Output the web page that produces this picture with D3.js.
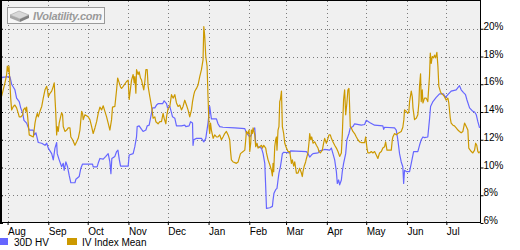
<!DOCTYPE html>
<html lang="en">
<head>
<meta charset="UTF-8">
<title>30D HV / IV Index Mean</title>
<script src="https://cdn.jsdelivr.net/npm/d3@7/dist/d3.min.js"></script>
<style>
    body { margin: 0; background: #fff; }
    svg text { font-family: "Liberation Sans", Arial, sans-serif; font-size: 10px; fill: #000; }
</style>
</head>
<body>
<div id="chart"></div>
<script>
    // time range of the chart (one year, day 0 = start date)
    var startDate = new Date(2010, 6, 27);
    var endDate = new Date(2011, 6, 27);

    var monthLabels = ["Aug", "Sep", "Oct", "Nov", "Dec", "Jan", "Feb", "Mar", "Apr", "May", "Jun", "Jul"];
    var yTicks = [6, 8, 10, 12, 14, 16, 18, 20];
    var seriesNames = ["30D HV", "IV Index Mean"];
    var seriesColors = ["#6666ff", "#cc9900"];

    // [day offset from startDate, value in %]
    var hvSeries = [
        [0, 16.1], [0.5, 16.5], [6.8, 16.55], [8.1, 16.0], [10.6, 15.6], [11.9, 15.0], [13.9, 14.75], [15.0, 14.3],
        [16.5, 13.9], [17.5, 13.4], [19.5, 13.2], [21.5, 12.7], [24.6, 12.7], [25.3, 12.35], [26.6, 12.5], [28.4, 11.8],
        [31.0, 11.75], [33.5, 11.6], [34.8, 11.75], [36.0, 11.4], [38.6, 11.0], [39.8, 10.55], [41.1, 11.4], [42.4, 11.8],
        [42.8, 11.0], [44.3, 10.55], [46.2, 10.05], [47.4, 10.3], [48.1, 9.8], [49.4, 10.4], [50.7, 10.05], [51.9, 9.45],
        [53.2, 8.9], [56.3, 8.9], [57.0, 9.15], [59.5, 9.35], [60.8, 9.95], [62.1, 10.25], [69.7, 10.25], [70.2, 10.05],
        [73.2, 10.05], [74.3, 10.4], [75.3, 10.65], [77.8, 10.6], [79.8, 10.8], [81.6, 11.0], [82.9, 10.4], [83.7, 9.55],
        [84.4, 10.65], [86.7, 10.8], [88.0, 11.15], [89.0, 11.25], [90.0, 10.6], [91.0, 10.1], [96.8, 10.1], [97.6, 10.9],
        [100.6, 11.0], [101.9, 11.5], [103.2, 12.2], [103.7, 12.95], [105.2, 13.0], [107.0, 12.75], [108.2, 12.6], [110.3, 12.7],
        [111.3, 13.0], [112.8, 13.05], [113.8, 13.55], [115.4, 14.3], [117.1, 14.3], [118.4, 14.5], [119.6, 14.6], [123.0, 14.6],
        [124.2, 14.8], [126.0, 14.6], [126.8, 14.3], [128.5, 14.4], [130.6, 13.65], [132.3, 13.55], [133.6, 13.0], [137.4, 13.0],
        [139.9, 13.05], [140.7, 12.95], [143.2, 13.0], [144.3, 13.3], [145.8, 13.2], [146.2, 11.6], [146.8, 12.0], [148.8, 12.1],
        [152.6, 12.1], [154.4, 11.85], [155.9, 12.1], [157.6, 13.2], [158.9, 14.4], [160.2, 13.5], [164.0, 13.5], [165.2, 13.15],
        [166.5, 12.95], [169.0, 12.9], [177.9, 12.85], [185.6, 12.8], [186.8, 12.5], [188.1, 12.35], [189.4, 12.2], [190.6, 12.35],
        [191.9, 12.7], [193.2, 12.85], [193.9, 11.75], [195.7, 11.5], [198.3, 11.4], [199.5, 11.0], [200.8, 10.3], [201.5, 8.6],
        [202.1, 7.05], [204.6, 7.1], [206.6, 7.2], [207.1, 7.65], [207.8, 8.15], [209.1, 8.4], [210.1, 8.5], [210.9, 9.1],
        [211.6, 9.6], [212.7, 10.05], [213.5, 10.55], [214.2, 11.0], [215.2, 11.1], [219.8, 11.05], [220.5, 11.2], [232.5, 11.15],
        [233.7, 11.0], [235.0, 10.75], [236.3, 10.9], [237.5, 11.0], [241.3, 11.05], [242.6, 11.2], [246.4, 11.3], [250.2, 11.25],
        [251.5, 11.4], [252.7, 11.0], [254.0, 10.55], [255.3, 9.7], [256.0, 8.85], [257.0, 9.1], [257.8, 8.75], [259.1, 9.1],
        [259.8, 9.7], [260.8, 10.3], [262.4, 11.0], [263.3, 12.0], [264.9, 12.45], [265.9, 12.85], [267.9, 12.95], [269.2, 13.15],
        [274.3, 13.05], [276.8, 13.1], [278.1, 13.4], [280.6, 13.25], [284.4, 13.05], [290.7, 13.0], [291.3, 12.75], [292.0, 12.9],
        [299.6, 12.85], [300.9, 12.7], [302.1, 12.0], [303.4, 11.0], [304.7, 10.4], [305.9, 10.05], [306.5, 8.85], [307.2, 9.8],
        [308.8, 9.7], [311.0, 9.7], [312.3, 10.3], [314.1, 11.15], [317.3, 11.15], [318.6, 11.6], [319.9, 12.0], [321.2, 12.2],
        [322.4, 12.15], [324.9, 12.2], [326.2, 13.45], [327.0, 14.4], [328.8, 14.75], [331.3, 15.05], [333.8, 15.3], [336.9, 15.3],
        [338.4, 15.05], [340.2, 15.25], [342.7, 15.5], [346.5, 15.6], [349.0, 15.9], [350.3, 15.6], [352.1, 15.4], [353.6, 15.25],
        [354.6, 14.9], [356.7, 14.3], [359.2, 14.05], [360.5, 14.0], [361.8, 13.8], [363.0, 13.3], [364.3, 12.85]
    ];

    var ivSeries = [
        [0, 15.5], [0.5, 15.15], [1.7, 15.6], [3.0, 16.1], [4.3, 16.7], [4.8, 17.3], [5.6, 16.9], [6.1, 17.3],
        [6.8, 16.1], [7.4, 15.0], [8.1, 14.15], [9.4, 14.4], [10.6, 14.5], [11.9, 14.3], [13.2, 13.9], [13.9, 13.65],
        [15.2, 13.65], [16.5, 13.8], [17.0, 14.15], [18.3, 14.3], [19.0, 14.05], [19.5, 14.35], [20.3, 13.65], [21.5, 12.35],
        [24.6, 12.2], [25.9, 13.2], [26.6, 13.55], [27.6, 13.9], [28.4, 13.65], [29.7, 14.05], [31.0, 14.4], [32.2, 15.0],
        [33.5, 15.6], [34.8, 15.85], [35.5, 15.5], [36.0, 15.1], [37.3, 15.35], [38.6, 15.5], [39.8, 15.85], [40.5, 16.1],
        [41.1, 15.0], [41.6, 14.15], [42.4, 12.35], [42.8, 12.95], [43.6, 12.6], [44.3, 13.2], [45.4, 13.65], [46.2, 13.95],
        [46.9, 13.8], [47.4, 12.95], [48.7, 12.6], [50.0, 12.7], [51.2, 12.85], [52.5, 12.85], [53.2, 12.2], [54.5, 12.0],
        [56.3, 11.6], [57.6, 11.85], [58.8, 12.1], [60.1, 12.7], [60.8, 13.45], [61.4, 14.05], [62.1, 13.9], [62.6, 13.45],
        [63.9, 13.8], [66.4, 13.65], [67.7, 13.45], [69.0, 12.95], [70.2, 12.45], [71.5, 12.85], [72.8, 13.3], [74.0, 13.9],
        [75.3, 14.35], [76.6, 14.15], [77.8, 14.45], [79.1, 14.05], [80.4, 13.65], [81.6, 13.2], [82.9, 12.7], [84.2, 13.45],
        [84.9, 14.35], [86.7, 14.4], [88.0, 15.6], [88.8, 16.45], [90.0, 16.1], [91.0, 15.8], [91.8, 15.7], [93.0, 15.85],
        [95.6, 16.2], [96.8, 16.3], [97.6, 14.9], [98.6, 15.7], [99.4, 16.3], [100.6, 16.7], [101.4, 16.1], [101.9, 16.55],
        [102.7, 15.35], [103.2, 17.05], [104.4, 16.7], [105.2, 16.9], [106.2, 16.45], [107.0, 16.3], [107.8, 15.95], [108.7, 15.6],
        [109.5, 16.2], [110.3, 17.05], [111.3, 17.05], [112.0, 15.85], [113.3, 15.1], [114.6, 14.4], [115.8, 13.55], [117.1, 13.65],
        [117.9, 13.3], [119.6, 13.15], [120.9, 13.3], [122.2, 13.3], [123.4, 13.9], [124.2, 13.55], [125.5, 13.15], [126.0, 13.65],
        [127.2, 14.25], [128.5, 14.4], [129.8, 15.25], [131.0, 15.0], [132.3, 15.25], [133.6, 14.65], [134.8, 14.4], [136.1, 14.5],
        [137.4, 14.15], [138.6, 14.4], [139.9, 14.85], [141.2, 14.5], [142.4, 14.15], [143.7, 13.65], [145.0, 14.15], [145.8, 14.75],
        [146.8, 15.25], [147.5, 15.5], [148.8, 15.7], [150.0, 15.95], [151.3, 16.55], [152.6, 17.05], [153.8, 17.75], [154.4, 20.15],
        [155.1, 19.45], [155.9, 18.0], [156.9, 17.3], [157.6, 15.1], [158.4, 12.95], [158.9, 12.45], [159.5, 13.2], [160.2, 12.7],
        [161.5, 12.1], [162.7, 12.35], [164.0, 12.2], [165.2, 12.2], [166.5, 12.35], [167.8, 12.0], [169.0, 12.2], [170.3, 12.45],
        [171.6, 12.6], [172.9, 12.35], [174.1, 12.0], [174.7, 11.25], [175.4, 10.55], [176.7, 10.4], [178.0, 10.35], [179.2, 10.3],
        [180.5, 10.4], [182.3, 11.0], [184.3, 11.15], [185.6, 11.25], [186.3, 12.0], [186.8, 12.6], [188.1, 12.45], [188.8, 12.7],
        [189.4, 11.15], [190.1, 11.75], [190.6, 12.7], [191.4, 12.45], [191.9, 12.85], [193.2, 12.35], [193.9, 11.5], [194.9, 11.75],
        [195.7, 11.4], [197.0, 11.5], [198.3, 11.6], [199.0, 11.4], [200.0, 11.6], [201.5, 11.4], [202.1, 11.05], [203.3, 10.55],
        [204.6, 10.2], [205.9, 9.8], [206.6, 9.4], [207.1, 10.3], [207.6, 9.7], [208.4, 11.5], [209.1, 12.0], [209.7, 12.2],
        [210.1, 11.25], [210.9, 12.7], [211.6, 12.95], [212.2, 14.75], [212.7, 14.9], [213.5, 15.5], [214.2, 12.95], [215.2, 12.45],
        [216.0, 11.75], [217.3, 11.4], [218.5, 11.15], [219.8, 11.15], [221.1, 10.3], [221.8, 10.55], [222.8, 10.1], [223.6, 10.4],
        [224.9, 9.6], [226.1, 9.6], [227.4, 9.95], [228.7, 9.6], [229.4, 9.35], [229.9, 9.7], [230.7, 10.05], [231.9, 10.4],
        [232.5, 10.65], [233.7, 11.05], [234.5, 11.85], [235.0, 12.45], [235.8, 12.0], [236.5, 12.2], [237.5, 11.75], [238.8, 11.85],
        [240.1, 11.6], [241.3, 11.4], [242.1, 11.15], [243.1, 11.05], [244.6, 11.25], [245.6, 11.75], [246.4, 12.1], [247.7, 11.75],
        [248.9, 12.1], [249.7, 12.35], [250.7, 12.35], [251.5, 12.1], [252.7, 11.85], [254.0, 11.6], [255.3, 11.4], [256.5, 11.15],
        [257.8, 10.8], [259.1, 11.05], [259.8, 12.35], [260.3, 13.65], [260.8, 14.9], [261.6, 15.6], [262.4, 13.8], [263.3, 14.65],
        [264.1, 15.6], [264.9, 15.7], [265.4, 14.4], [265.9, 12.95], [266.7, 12.85], [267.9, 12.6], [269.2, 12.45], [270.5, 12.2],
        [271.7, 12.0], [273.0, 11.85], [274.3, 11.8], [276.8, 11.8], [277.6, 12.2], [278.6, 11.4], [279.3, 11.05], [280.6, 11.05],
        [281.9, 11.15], [283.1, 11.05], [284.4, 11.15], [285.7, 10.9], [286.9, 10.65], [288.2, 11.05], [289.5, 11.15], [290.7, 11.4],
        [292.0, 11.5], [292.8, 11.85], [293.8, 11.25], [297.1, 11.25], [297.9, 12.0], [298.3, 12.2], [299.6, 12.45], [300.9, 12.35],
        [302.1, 12.45], [304.7, 12.6], [305.9, 12.9], [306.7, 13.45], [307.2, 14.15], [308.5, 14.05], [309.7, 13.9], [310.5, 14.05],
        [311.0, 14.75], [312.3, 15.5], [313.1, 15.1], [313.6, 14.3], [314.8, 13.45], [316.1, 13.55], [317.3, 13.8], [318.1, 14.65],
        [318.6, 15.85], [319.4, 16.75], [319.9, 14.75], [320.7, 15.6], [321.2, 14.65], [322.4, 15.0], [323.7, 15.0], [324.9, 14.75],
        [326.2, 16.55], [326.8, 18.25], [327.5, 17.5], [328.3, 18.0], [329.3, 17.9], [330.0, 18.1], [330.8, 17.9], [331.8, 18.3],
        [332.6, 17.3], [333.3, 15.85], [334.4, 15.5], [335.1, 15.35], [336.3, 15.25], [337.6, 15.1], [338.9, 14.85], [340.2, 15.0],
        [340.9, 14.65], [342.0, 13.55], [342.7, 13.2], [344.0, 13.05], [345.2, 13.0], [346.5, 12.85], [347.8, 12.7], [349.0, 12.6],
        [350.3, 12.5], [351.6, 12.6], [352.9, 13.2], [354.2, 12.95], [355.4, 12.7], [356.1, 11.4], [357.2, 11.25], [358.0, 11.15],
        [359.2, 11.05], [360.5, 11.25], [361.3, 11.75], [362.2, 11.6], [363.0, 11.15], [363.8, 11.05], [364.3, 11.15]
    ];

    var width = 520;
    var height = 250;
    var plotLeft = 1, plotRight = 480.5, plotTop = 1, plotBottom = 223;

    var x = d3.scaleTime()
            .domain([startDate, endDate])
            .range([plotLeft, plotRight]);

    var y = d3.scaleLinear()
            .domain([6, 22])
            .range([plotBottom, plotTop]);

    var monthTicks = d3.timeMonth.range(d3.timeMonth.ceil(startDate), endDate);

    var svg = d3.select("#chart")
            .append("svg")
            .attr("width", width)
            .attr("height", height);

    svg.append("rect")
            .attr("width", width)
            .attr("height", height)
            .attr("fill", "#ffffff");

    // plot background
    svg.append("rect")
            .attr("x", plotLeft)
            .attr("y", plotTop)
            .attr("width", plotRight - plotLeft)
            .attr("height", plotBottom - plotTop)
            .attr("fill", "#f0f0f0");

    // dotted grid
    var grid = svg.append("g")
            .attr("stroke", "#7a7a7a")
            .attr("stroke-width", 1)
            .attr("stroke-dasharray", "1,3")
            .attr("shape-rendering", "crispEdges");

    grid.selectAll(".vgrid")
            .data(monthTicks)
            .enter()
            .append("line")
            .attr("x1", function (d) { return Math.round(x(d)) + 0.5; })
            .attr("x2", function (d) { return Math.round(x(d)) + 0.5; })
            .attr("y1", plotTop)
            .attr("y2", plotBottom);

    grid.selectAll(".hgrid")
            .data(yTicks.filter(function (d) { return d > 6; }))
            .enter()
            .append("line")
            .attr("x1", plotLeft)
            .attr("x2", plotRight)
            .attr("y1", function (d) { return Math.round(y(d)) + 0.5; })
            .attr("y2", function (d) { return Math.round(y(d)) + 0.5; });

    // logo
    var logo = svg.append("g").attr("transform", "translate(7,7)");
    logo.append("rect")
            .attr("x", 0.5).attr("y", 0.5)
            .attr("width", 97).attr("height", 16)
            .attr("fill", "#f7f7f7")
            .attr("stroke", "#9a9a9a");
    logo.append("polygon")
            .attr("points", "3,8 12,4 22,8 13,12")
            .attr("fill", "#d8d8d8").attr("stroke", "#999").attr("stroke-width", 0.5);
    logo.append("polygon")
            .attr("points", "3,8 13,12 13,15 3,11")
            .attr("fill", "#a8a8a8");
    logo.append("polygon")
            .attr("points", "13,12 22,8 22,11 13,15")
            .attr("fill", "#808080");
    logo.append("text")
            .attr("x", 26)
            .attr("y", 12.5)
            .attr("textLength", 69)
            .style("font-size", "11px")
            .style("font-style", "italic")
            .style("font-weight", "bold")
            .style("fill", "#9a9a9a")
            .text("IVolatility.com");

    // series lines
    var line = d3.line()
            .x(function (d) { return x(d3.timeHour.offset(startDate, d[0] * 24)); })
            .y(function (d) { return y(d[1]); });

    [hvSeries, ivSeries].forEach(function (s, i) {
        svg.append("path")
                .datum(s)
                .attr("fill", "none")
                .attr("stroke", seriesColors[i])
                .attr("stroke-width", 1.2)
                .attr("stroke-linejoin", "round")
                .attr("d", line);
    });

    // frame
    var frame = svg.append("g").attr("stroke", "#000").attr("shape-rendering", "crispEdges");
    frame.append("line").attr("x1", 0.5).attr("x2", 0.5).attr("y1", 0).attr("y2", plotBottom).attr("stroke-width", 1);
    frame.append("line").attr("x1", 1.5).attr("x2", 1.5).attr("y1", 0).attr("y2", plotBottom).attr("stroke-width", 1);
    frame.append("line").attr("x1", 0).attr("x2", plotRight + 0.5).attr("y1", 0.5).attr("y2", 0.5);
    frame.append("line").attr("x1", plotRight).attr("x2", plotRight).attr("y1", 0).attr("y2", plotBottom);
    frame.append("line").attr("x1", 0).attr("x2", plotRight + 0.5).attr("y1", 222.5).attr("y2", 222.5);

    // left ticks (no labels)
    svg.append("g")
            .attr("transform", "translate(0,0)")
            .call(d3.axisRight(y).tickValues(yTicks).tickSize(3).tickFormat(""))
            .call(function (g) { g.select(".domain").remove(); });

    // right axis with labels
    var yAxis = svg.append("g")
            .attr("transform", "translate(" + plotRight + ",0)")
            .call(d3.axisRight(y).tickValues(yTicks).tickSize(3).tickFormat(function (d) { return d + "%"; }));
    yAxis.select(".domain").remove();
    yAxis.selectAll("text")
            .attr("x", 3)
            .attr("dy", "0.05em")
            .attr("font-family", null)
            .attr("font-size", null);

    // bottom axis: month labels start at the month line
    var xAxis = svg.append("g")
            .attr("transform", "translate(0,222)")
            .call(d3.axisBottom(x).tickValues(monthTicks).tickSize(3)
                    .tickFormat(function (d, i) { return monthLabels[i]; }));
    xAxis.select(".domain").remove();
    xAxis.selectAll("text")
            .attr("x", 0)
            .attr("y", 6)
            .attr("text-anchor", "start")
            .attr("font-family", null)
            .attr("font-size", null);

    // legend
    var legendX = [0, 67];
    var legend = svg.selectAll(".legend")
            .data(seriesNames)
            .enter()
            .append("g")
            .attr("transform", function (d, i) { return "translate(" + legendX[i] + ",238)"; });

    legend.append("rect")
            .attr("x", function (d, i) { return i === 0 ? -2 : 0; })
            .attr("width", 10)
            .attr("height", 7)
            .attr("fill", function (d, i) { return seriesColors[i]; });

    legend.append("text")
            .attr("x", function (d, i) { return i === 0 ? 14 : 15; })
            .attr("y", 8)
            .text(function (d) { return d; });
</script>
</body>
</html>
